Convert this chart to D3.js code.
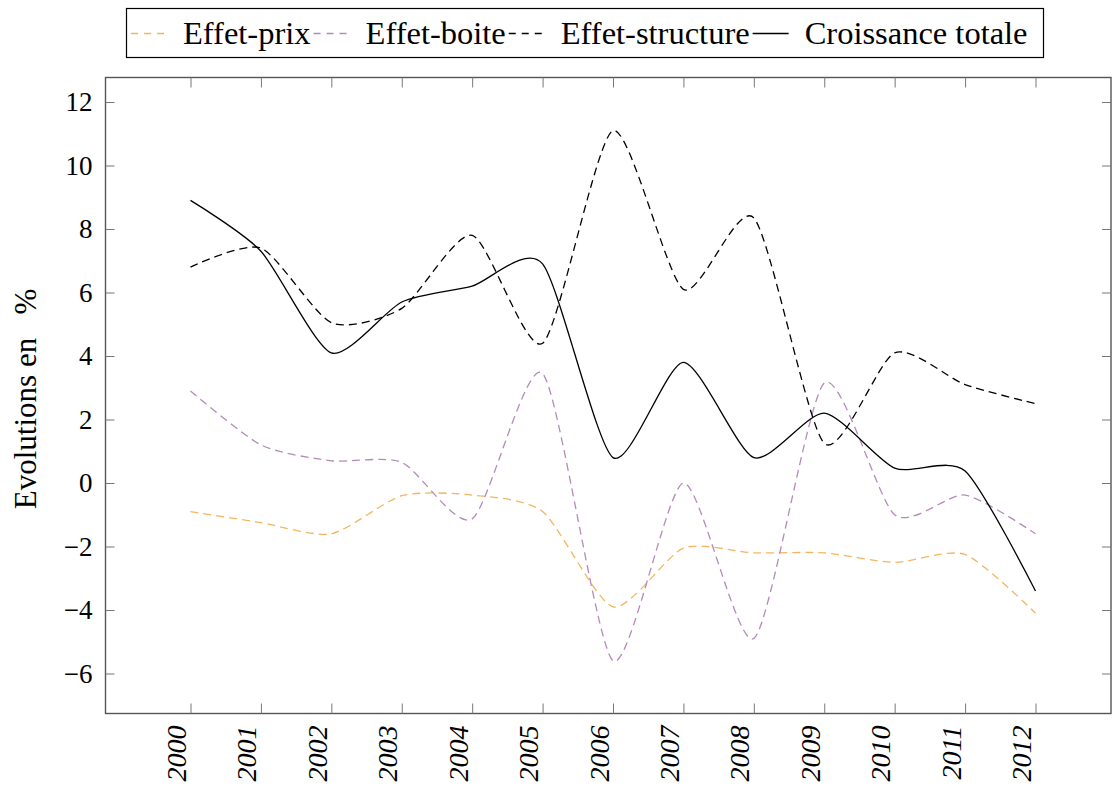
<!DOCTYPE html>
<html>
<head>
<meta charset="utf-8">
<script src="https://cdn.jsdelivr.net/npm/d3@7/dist/d3.min.js"></script>
<style>
  html, body { margin: 0; padding: 0; background: #fff; }
  svg { display: block; }
</style>
</head>
<body>
<svg id="chart" width="1112" height="787"></svg>
<script>
// ---- data ----
const years = [2000, 2001, 2002, 2003, 2004, 2005, 2006, 2007, 2008, 2009, 2010, 2011, 2012];
const effetPrix = [-0.9, -1.25, -1.6, -0.4, -0.38, -0.9, -3.9, -2.05, -2.2, -2.2, -2.5, -2.25, -4.1];
const effetBoite = [2.9, 1.2, 0.7, 0.65, -1.13, 3.45, -5.6, 0.0, -4.9, 3.15, -1.0, -0.38, -1.6];
const effetStructure = [6.8, 7.4, 5.05, 5.5, 7.8, 4.4, 11.1, 6.1, 8.35, 1.25, 4.1, 3.1, 2.5];
const croissanceTotale = [8.9, 7.3, 4.1, 5.7, 6.2, 6.9, 0.8, 3.8, 0.8, 2.2, 0.47, 0.38, -3.4];
const yTicks = [-6, -4, -2, 0, 2, 4, 6, 8, 10, 12];
const seriesNames = ["Effet-prix", "Effet-boite", "Effet-structure", "Croissance totale"];
const seriesColors = ["#f3b660", "#b58ab9", "#000000", "#000000"];
const seriesDash = ["8,5", "8,5", "8,5", null];
const seriesValues = [effetPrix, effetBoite, effetStructure, croissanceTotale];

// ---- layout ----
const svg = d3.select("#chart");
const pLeft = 105.5, pRight = 1111, pTop = 77.5, pBottom = 713.5;

const x = d3.scaleLinear().domain([2000, 2012]).range([190.5, 1035.5]);
const y = d3.scaleLinear().domain([0, 12]).range([483, 102]);

const numFont = "'Liberation Serif', 'DejaVu Serif', serif";

// ---- lines ----
const line = d3.line()
  .x((d, i) => x(years[i]))
  .y(d => y(d))
  .curve(d3.curveCardinal.tension(0.3));

const plot = svg.append("g");
seriesValues.forEach((vals, k) => {
  const p = plot.append("path")
    .datum(vals)
    .attr("d", line)
    .attr("fill", "none")
    .attr("stroke", seriesColors[k])
    .attr("stroke-width", 1.3);
  if (seriesDash[k]) p.attr("stroke-dasharray", seriesDash[k]);
});

// ---- axes (box) ----
const axisColor = "#555";
svg.append("rect")
  .attr("x", pLeft).attr("y", pTop)
  .attr("width", pRight - pLeft).attr("height", pBottom - pTop)
  .attr("fill", "none").attr("stroke", axisColor).attr("stroke-width", 1.4);

// bottom axis
const xAxis = d3.axisBottom(x).tickValues(years).tickSize(-10).tickFormat(d3.format("d"));
const gx = svg.append("g").attr("transform", `translate(0,${pBottom})`).call(xAxis);
gx.select(".domain").remove();
gx.selectAll(".tick line").attr("stroke", "#777").attr("stroke-width", 1);
gx.selectAll(".tick text")
  .attr("font-family", numFont)
  .attr("font-style", "italic")
  .attr("font-size", 28)
  .attr("fill", "#000")
  .attr("text-anchor", "end")
  .attr("dy", null)
  .attr("y", 0)
  .attr("x", 0)
  .attr("transform", "translate(-5,12) rotate(-90)");
// top ticks
const gxt = svg.append("g").attr("transform", `translate(0,${pTop})`)
  .call(d3.axisTop(x).tickValues(years).tickSize(-10).tickFormat(""));
gxt.select(".domain").remove();
gxt.selectAll(".tick line").attr("stroke", "#777").attr("stroke-width", 1);

// left axis
const yAxis = d3.axisLeft(y).tickValues(yTicks).tickSize(-9)
  .tickPadding(13).tickFormat(d => d < 0 ? "\u2212" + Math.abs(d) : String(d));
const gy = svg.append("g").attr("transform", `translate(${pLeft},0)`).call(yAxis);
gy.select(".domain").remove();
gy.selectAll(".tick line").attr("stroke", "#777").attr("stroke-width", 1);
gy.selectAll(".tick text")
  .attr("font-family", numFont)
  .attr("font-size", 27)
  .attr("fill", "#000");
// right ticks
const gyr = svg.append("g").attr("transform", `translate(${pRight},0)`)
  .call(d3.axisRight(y).tickValues(yTicks).tickSize(-9).tickFormat(""));
gyr.select(".domain").remove();
gyr.selectAll(".tick line").attr("stroke", "#777").attr("stroke-width", 1);

// y label
svg.append("text")
  .attr("transform", "translate(36,399) rotate(-90)")
  .attr("text-anchor", "middle")
  .attr("font-family", numFont)
  .attr("font-size", 31)
  .attr("fill", "#000")
  .attr("xml:space", "preserve")
  .text("Evolutions en \u2002%");

// ---- legend ----
const legX0 = 126, legX1 = 1043, legY0 = 8, legY1 = 57;
svg.append("rect")
  .attr("x", legX0 + 0.5).attr("y", legY0 + 0.5)
  .attr("width", legX1 - legX0).attr("height", legY1 - legY0)
  .attr("fill", "#fff").attr("stroke", "#000").attr("stroke-width", 1.2);

const leg = svg.append("g");
let cx = legX0 + 5;
const legMid = (legY0 + legY1) / 2 + 1;
seriesNames.forEach((name, k) => {
  const ln = leg.append("line")
    .attr("x1", cx).attr("x2", cx + 36)
    .attr("y1", legMid).attr("y2", legMid)
    .attr("stroke", seriesColors[k]).attr("stroke-width", 1.3);
  if (seriesDash[k]) ln.attr("stroke-dasharray", "7,6");
  const t = leg.append("text")
    .attr("x", cx + 52).attr("y", legMid + 10)
    .attr("font-family", numFont)
    .attr("font-size", 32.5)
    .attr("fill", "#000")
    .text(name);
  const w = t.node().getComputedTextLength();
  cx = cx + 52 + w + 3;
});
</script>
</body>
</html>
